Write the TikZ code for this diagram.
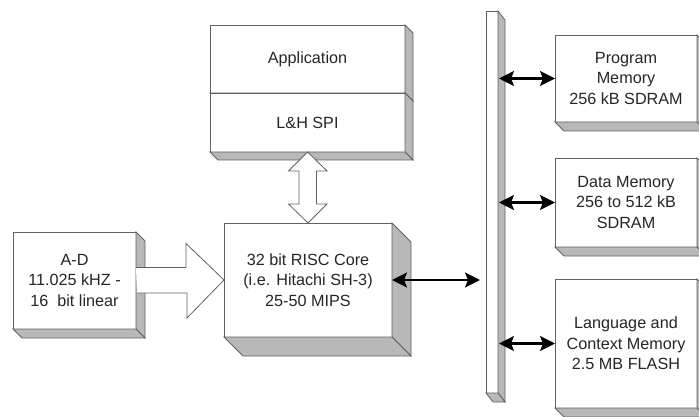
\documentclass[tikz,border=0pt]{standalone}
\usepackage{fontspec}
\setmainfont{Liberation Sans}
\usetikzlibrary{calc,arrows.meta}

% extruded side and bottom faces of a block node
\newcommand\blockdepth[3]{%
  \filldraw[face] (#1.north east) -- ++(#2,#3) -- ($(#1.south east)+(#2,#3)$) -- (#1.south east) -- cycle;
  \filldraw[face] (#1.south west) -- ++(#2,#3) -- ($(#1.south east)+(#2,#3)$) -- (#1.south east) -- cycle;}

\begin{document}
\begin{tikzpicture}[x=1pt,y=-1pt,
  edge/.style={draw=black!62,line width=0.8pt},
  block/.style={edge,fill=white,rectangle,inner sep=0pt,outer sep=0pt,align=center,
    font=\fontsize{16.2}{20.5}\selectfont,text=black!85},
  face/.style={edge,fill=black!28},
  hollow/.style={edge,fill=white,line join=miter},
  bidir/.style={line width=2.2pt,black,{Stealth[length=15pt,width=15pt,inset=3pt]}-{Stealth[length=15pt,width=15pt,inset=3pt]}}]
\useasboundingbox (0,0) rectangle (699,417);
\clip (0,0) rectangle (699,417);

% application stack
\node[block,minimum width=195pt,minimum height=68pt] (app) at (307.5,59) {Application};
\blockdepth{app}{8}{8}
\node[block,minimum width=195pt,minimum height=59pt] (spi) at (307.5,122.5) {L\&H SPI};
\blockdepth{spi}{8}{8}

% A-D converter
\node[block,minimum width=123pt,minimum height=97pt] (ad) at (74.5,280.5) {A-D\\11.025 kHZ -\\16\ \ bit linear};
\blockdepth{ad}{9}{9}

% processor core
\node[block,minimum width=168pt,minimum height=114pt] (risc) at (308,280) {32 bit RISC Core\\(i.e. Hitachi SH-3)\\25-50 MIPS};
\blockdepth{risc}{19}{19}

% system bus
\node[block,minimum width=12pt,minimum height=382pt] (bus) at (492,202) {};
\blockdepth{bus}{7}{9}

% memories
\node[block,minimum width=142pt,minimum height=87pt] (prog) at (626,78.5) {Program\\Memory\\256 kB SDRAM};
\blockdepth{prog}{9}{9}
\node[block,minimum width=142pt,minimum height=89pt] (data) at (626,202.5) {Data Memory\\256 to 512 kB\\SDRAM};
\blockdepth{data}{9}{9}
\node[block,minimum width=142pt,minimum height=129pt] (lang) at (626,343.5) {Language and\\Context Memory\\2.5 MB FLASH};
\blockdepth{lang}{9}{9}

% wide hollow arrow A-D -> core
\filldraw[hollow] ($(ad.east)+(0,-13)$) -- ++(50,0) -- ++(0,-24)
  -- (risc.west) -- ++(-37,38) -- ++(0,-25) -- ++(-50,0);

% wide hollow double arrow SPI <-> core
\filldraw[hollow] (spi.south) -- ++(19.5,19) -- ++(-10.5,0) -- ++(0,33) -- ++(10.5,0)
  -- (risc.north) -- ++(-19.5,-19) -- ++(10.5,0) -- ++(0,-33) -- ++(-10.5,0) -- cycle;

% bus connections
\draw[bidir,shorten >=6pt] (risc.east) -- (risc.east -| bus.west);
\draw[bidir,shorten <=1pt] (prog.west -| bus.east) -- (prog.west);
\draw[bidir,shorten <=1pt] (data.west -| bus.east) -- (data.west);
\draw[bidir,shorten <=1pt] (lang.west -| bus.east) -- (lang.west);
\end{tikzpicture}
\end{document}
